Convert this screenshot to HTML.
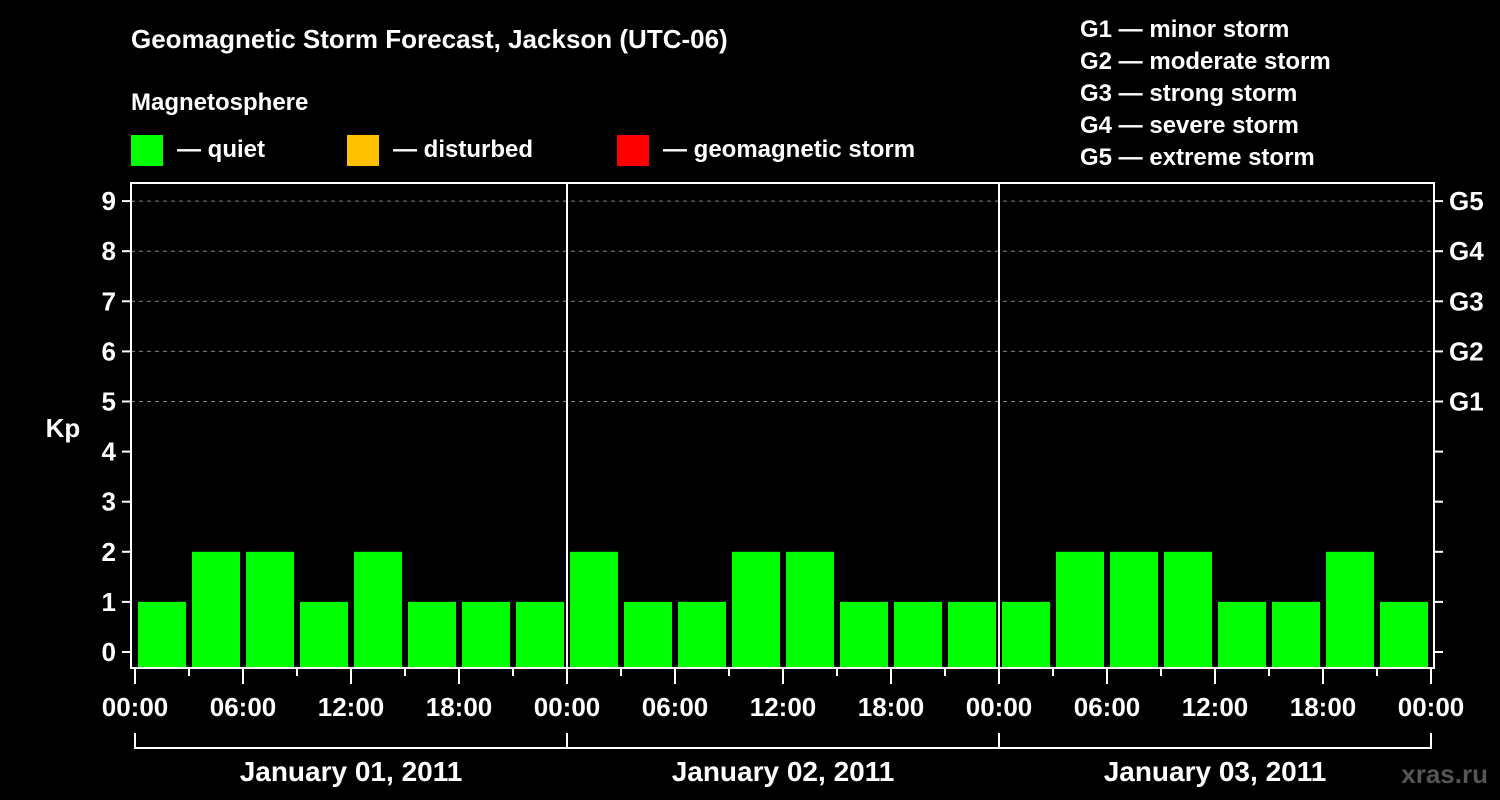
<!DOCTYPE html>
<html><head><meta charset="utf-8"><style>
html,body{margin:0;padding:0;background:#000;width:1500px;height:800px;overflow:hidden}
svg{display:block;font-family:"Liberation Sans",Arial,sans-serif;font-weight:bold}
</style></head><body>
<svg id="c" width="1500" height="800">
<rect width="1500" height="800" fill="#000"/>
<text x="131" y="48" fill="#fff" font-size="26">Geomagnetic Storm Forecast, Jackson (UTC-06)</text>
<text x="131" y="110" fill="#fff" font-size="24">Magnetosphere</text>
<g><rect x="131" y="135" width="32" height="31" fill="#00ff00"/><text x="177" y="157" fill="#fff" font-size="24">— quiet</text></g>
<g><rect x="347" y="135" width="32" height="31" fill="#ffc000"/><text x="393" y="157" fill="#fff" font-size="24">— disturbed</text></g>
<g><rect x="617" y="135" width="32" height="31" fill="#ff0000"/><text x="663" y="157" fill="#fff" font-size="24">— geomagnetic storm</text></g>
<g fill="#fff" font-size="24">
<text x="1080" y="37">G1 — minor storm</text>
<text x="1080" y="69">G2 — moderate storm</text>
<text x="1080" y="101">G3 — strong storm</text>
<text x="1080" y="133">G4 — severe storm</text>
<text x="1080" y="165">G5 — extreme storm</text>
</g>
<text x="63" y="437" fill="#fff" font-size="26" text-anchor="middle">Kp</text>
<text x="1488" y="783" fill="#555" font-size="26" text-anchor="end">xras.ru</text>
<g id="plot"></g>
</svg>
<script>
const kpValues = [1,2,2,1,2,1,1,1, 2,1,1,2,2,1,1,1, 1,2,2,2,1,1,2,1];
const dayLabels = ["January 01, 2011","January 02, 2011","January 03, 2011"];
const yTicks = [0,1,2,3,4,5,6,7,8,9];
const gLabels = ["G1","G2","G3","G4","G5"];
const hourLabels = ["00:00","06:00","12:00","18:00"];

const NS="http://www.w3.org/2000/svg";
const g=document.getElementById('plot');
const L=131,R=1434,T=183,B=668,X0=135,HPX=18;
const y=v=>652-v*50.1;
const x=h=>X0+h*HPX;
function el(t,a,txt){const e=document.createElementNS(NS,t);for(const k in a)e.setAttribute(k,a[k]);if(txt!=null)e.textContent=txt;g.appendChild(e);return e;}
function colorFor(v){return v>=5?'#ff0000':(v>=4?'#ffc000':'#00ff00');}
// gridlines
for(let v=5;v<=9;v++){const e=el('line',{x1:L,x2:R,y1:y(v),y2:y(v),stroke:'#888','stroke-dasharray':'4,4','stroke-width':1});

}
// bars
kpValues.forEach((v,i)=>{const e=el('rect',{x:x(i*3)+3,y:y(v),width:48,height:B-y(v),fill:colorFor(v)});

});
// frame
const fr=el('rect',{x:L,y:T,width:R-L,height:B-T,fill:'none',stroke:'#fff','stroke-width':2});


// day separators
for(let d=1;d<dayLabels.length;d++){const e=el('line',{x1:x(d*24),x2:x(d*24),y1:T,y2:B,stroke:'#fff','stroke-width':2});

}
// y ticks
yTicks.forEach(v=>{el('line',{x1:122,x2:L,y1:y(v),y2:y(v),stroke:'#fff','stroke-width':2});
el('line',{x1:R,x2:1443,y1:y(v),y2:y(v),stroke:'#fff','stroke-width':2});
const t=el('text',{x:116,y:y(v)+9,fill:'#fff','font-size':26,'text-anchor':'end'},String(v));

});
gLabels.forEach((s,i)=>{const t=el('text',{x:1449,y:y(5+i)+9,fill:'#fff','font-size':26},s);

});
// x ticks
for(let h=0;h<=72;h+=3){const major=h%6===0;el('line',{x1:x(h),x2:x(h),y1:B,y2:B+(major?16:8),stroke:'#fff','stroke-width':2});}
for(let h=0;h<=72;h+=6){const lab=hourLabels[(h/6)%4];const t=el('text',{x:x(h),y:716,fill:'#fff','font-size':26,'text-anchor':'middle'},lab);

}
// day brackets
el('path',{d:`M${x(0)} 733 V748 H${x(72)} V733`,fill:'none',stroke:'#fff','stroke-width':2});
for(let d=1;d<dayLabels.length;d++)el('line',{x1:x(d*24),x2:x(d*24),y1:733,y2:748,stroke:'#fff','stroke-width':2});
dayLabels.forEach((s,d)=>{const t=el('text',{x:x(d*24+12),y:781,fill:'#fff','font-size':28,'text-anchor':'middle'},s);

});
</script>
</body></html>
